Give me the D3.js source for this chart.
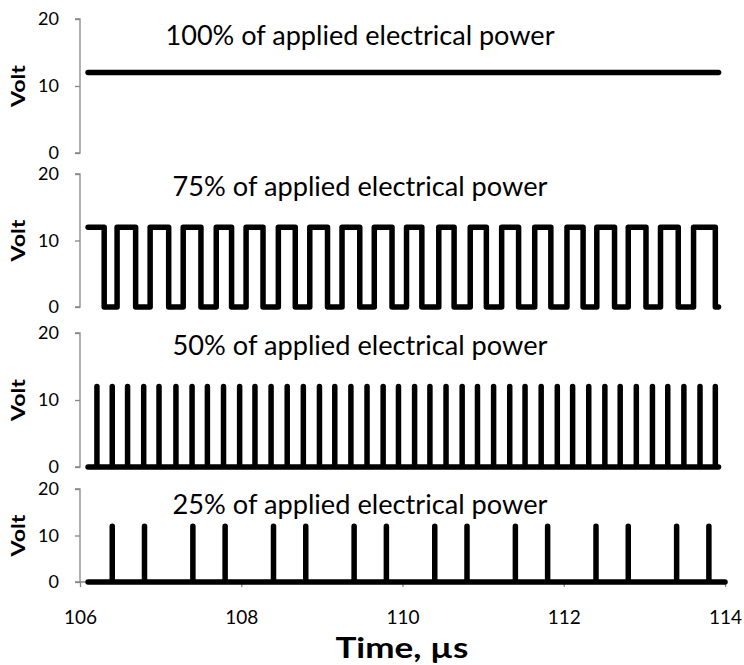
<!DOCTYPE html>
<html>
<head>
<meta charset="utf-8">
<script src="https://cdn.jsdelivr.net/npm/d3@7"></script>
<style>
  html, body { margin: 0; padding: 0; background: #fff; }
  svg { display: block; }
</style>
</head>
<body>
<svg id="chart" width="744" height="665"></svg>
<script>
// ---------- data ----------
const timeTicks = [106, 108, 110, 112, 114];
const voltTicks = [0, 10, 20];
const titles = [
  "100% of applied electrical power",
  "75% of applied electrical power",
  "50% of applied electrical power",
  "25% of applied electrical power"
];
const highVolt = 12;
const lowVolt = 0;
// 100 %: constant level
const full100 = [[106.1, 12], [113.92, 12]];
// 75 %: square wave edges (µs)
const start75 = 106.1, end75 = 113.92;
const fall75 = [106.30, 106.69, 107.10, 107.50, 107.88, 108.27, 108.67, 109.07, 109.47, 109.87,
                110.24, 110.64, 111.04, 111.44, 111.84, 112.24, 112.63, 113.02, 113.42, 113.88];
const rise75 = [106.46, 106.87, 107.28, 107.69, 108.06, 108.46, 108.85, 109.25, 109.65, 110.05,
                110.45, 110.84, 111.23, 111.64, 112.04, 112.41, 112.80, 113.20, 113.61];
// 50 %: pulse times
const start50 = 106.1, end50 = 113.92;
const spikes50 = [106.21, 106.40, 106.59, 106.79, 106.98, 107.19, 107.39, 107.58, 107.78, 107.98,
                  108.17, 108.37, 108.57, 108.77, 108.97, 109.16, 109.36, 109.56, 109.76, 109.95,
                  110.15, 110.34, 110.54, 110.74, 110.93, 111.13, 111.33, 111.52, 111.72, 111.92,
                  112.11, 112.31, 112.51, 112.70, 112.90, 113.10, 113.29, 113.49, 113.69, 113.88];
// 25 %: pulse times
const start25 = 106.1, end25 = 114.0;
const spikes25 = [106.4, 106.8, 107.4, 107.8, 108.4, 108.8, 109.4, 109.8, 110.4, 110.8,
                  111.4, 111.8, 112.4, 112.8, 113.4, 113.8];

// ---------- build series ----------
function squareWave(start, end, falls, rises, hi, lo) {
  const pts = [[start, hi]];
  falls.forEach((f, i) => {
    pts.push([f, hi], [f, lo]);
    if (i < rises.length) pts.push([rises[i], lo], [rises[i], hi]);
  });
  pts.push([end, lo]);
  return pts;
}
function spikeTrain(start, end, spikes, hi, lo) {
  const pts = [[start, lo]];
  spikes.forEach(s => pts.push([s, lo], [s, hi], [s, lo]));
  pts.push([end, lo]);
  return pts;
}
const series = [
  full100,
  squareWave(start75, end75, fall75, rise75, highVolt, lowVolt),
  spikeTrain(start50, end50, spikes50, highVolt, lowVolt),
  spikeTrain(start25, end25, spikes25, highVolt, lowVolt)
];

// ---------- layout ----------
const svg = d3.select("#chart");
const axisColor = "#878787";
const font = "Lato, 'Open Sans', sans-serif";
const x = d3.scaleLinear().domain([106, 114]).range([80, 725]);
const panels = [
  { y0: 153, y1: 19,  titleY: 45 },
  { y0: 307, y1: 174, titleY: 196 },
  { y0: 467, y1: 333, titleY: 355 },
  { y0: 582, y1: 489, titleY: 514 }
];
const titleWidths = [389, 375, 375, 375];

panels.forEach((p, i) => {
  const y = d3.scaleLinear().domain([0, 20]).range([p.y0, p.y1]);
  const g = svg.append("g");

  // y axis
  const ax = g.append("g")
    .attr("transform", "translate(80,0)")
    .call(d3.axisLeft(y).tickValues(voltTicks).tickSize(5).tickPadding(16).tickFormat(d3.format("d")));
  ax.select(".domain").attr("stroke", axisColor).attr("stroke-width", 1.3)
    .attr("d", `M-5,${y(20)}H0V${y(0)}H-5`);
  ax.selectAll(".tick line").attr("stroke", axisColor).attr("stroke-width", 1.3);
  ax.selectAll(".tick text").attr("font-family", font).attr("font-size", 18).attr("fill", "#000");

  // Volt label
  g.append("text")
    .attr("transform", `translate(25,${y(10)}) rotate(-90)`)
    .attr("text-anchor", "middle")
    .attr("font-family", font).attr("font-weight", "bold").attr("font-size", 19)
    .attr("textLength", 42).attr("lengthAdjust", "spacingAndGlyphs")
    .text("Volt");

  // title
  g.append("text")
    .attr("x", 360).attr("y", p.titleY)
    .attr("text-anchor", "middle")
    .attr("font-family", font).attr("font-size", 27)
    .attr("textLength", titleWidths[i]).attr("lengthAdjust", "spacingAndGlyphs")
    .text(titles[i]);

  // x axis (bottom panel only)
  if (i === 3) {
    const xa = g.append("g")
      .attr("transform", `translate(0,${y(0)})`)
      .call(d3.axisBottom(x).tickValues(timeTicks).tickSize(5).tickPadding(24).tickFormat(d3.format("d")));
    xa.select(".domain").attr("stroke", axisColor).attr("stroke-width", 1.3)
      .attr("d", `M${x(106)},0H${x(114)}`);
    xa.selectAll(".tick line").attr("stroke", axisColor).attr("stroke-width", 1.3);
    xa.selectAll(".tick text").attr("font-family", font).attr("font-size", 19).attr("fill", "#000");
  }

  // series line
  const line = d3.line().x(d => x(d[0])).y(d => y(d[1]));
  g.append("path")
    .datum(series[i])
    .attr("d", line)
    .attr("fill", "none")
    .attr("stroke", "#000")
    .attr("stroke-width", 5.5)
    .attr("stroke-linejoin", "round")
    .attr("stroke-linecap", "round");
});

// x axis title
svg.append("text")
  .attr("x", 402).attr("y", 658)
  .attr("text-anchor", "middle")
  .attr("font-family", font).attr("font-weight", "bold").attr("font-size", 28)
  .attr("textLength", 133).attr("lengthAdjust", "spacingAndGlyphs")
  .text("Time, µs");
</script>
</body>
</html>
